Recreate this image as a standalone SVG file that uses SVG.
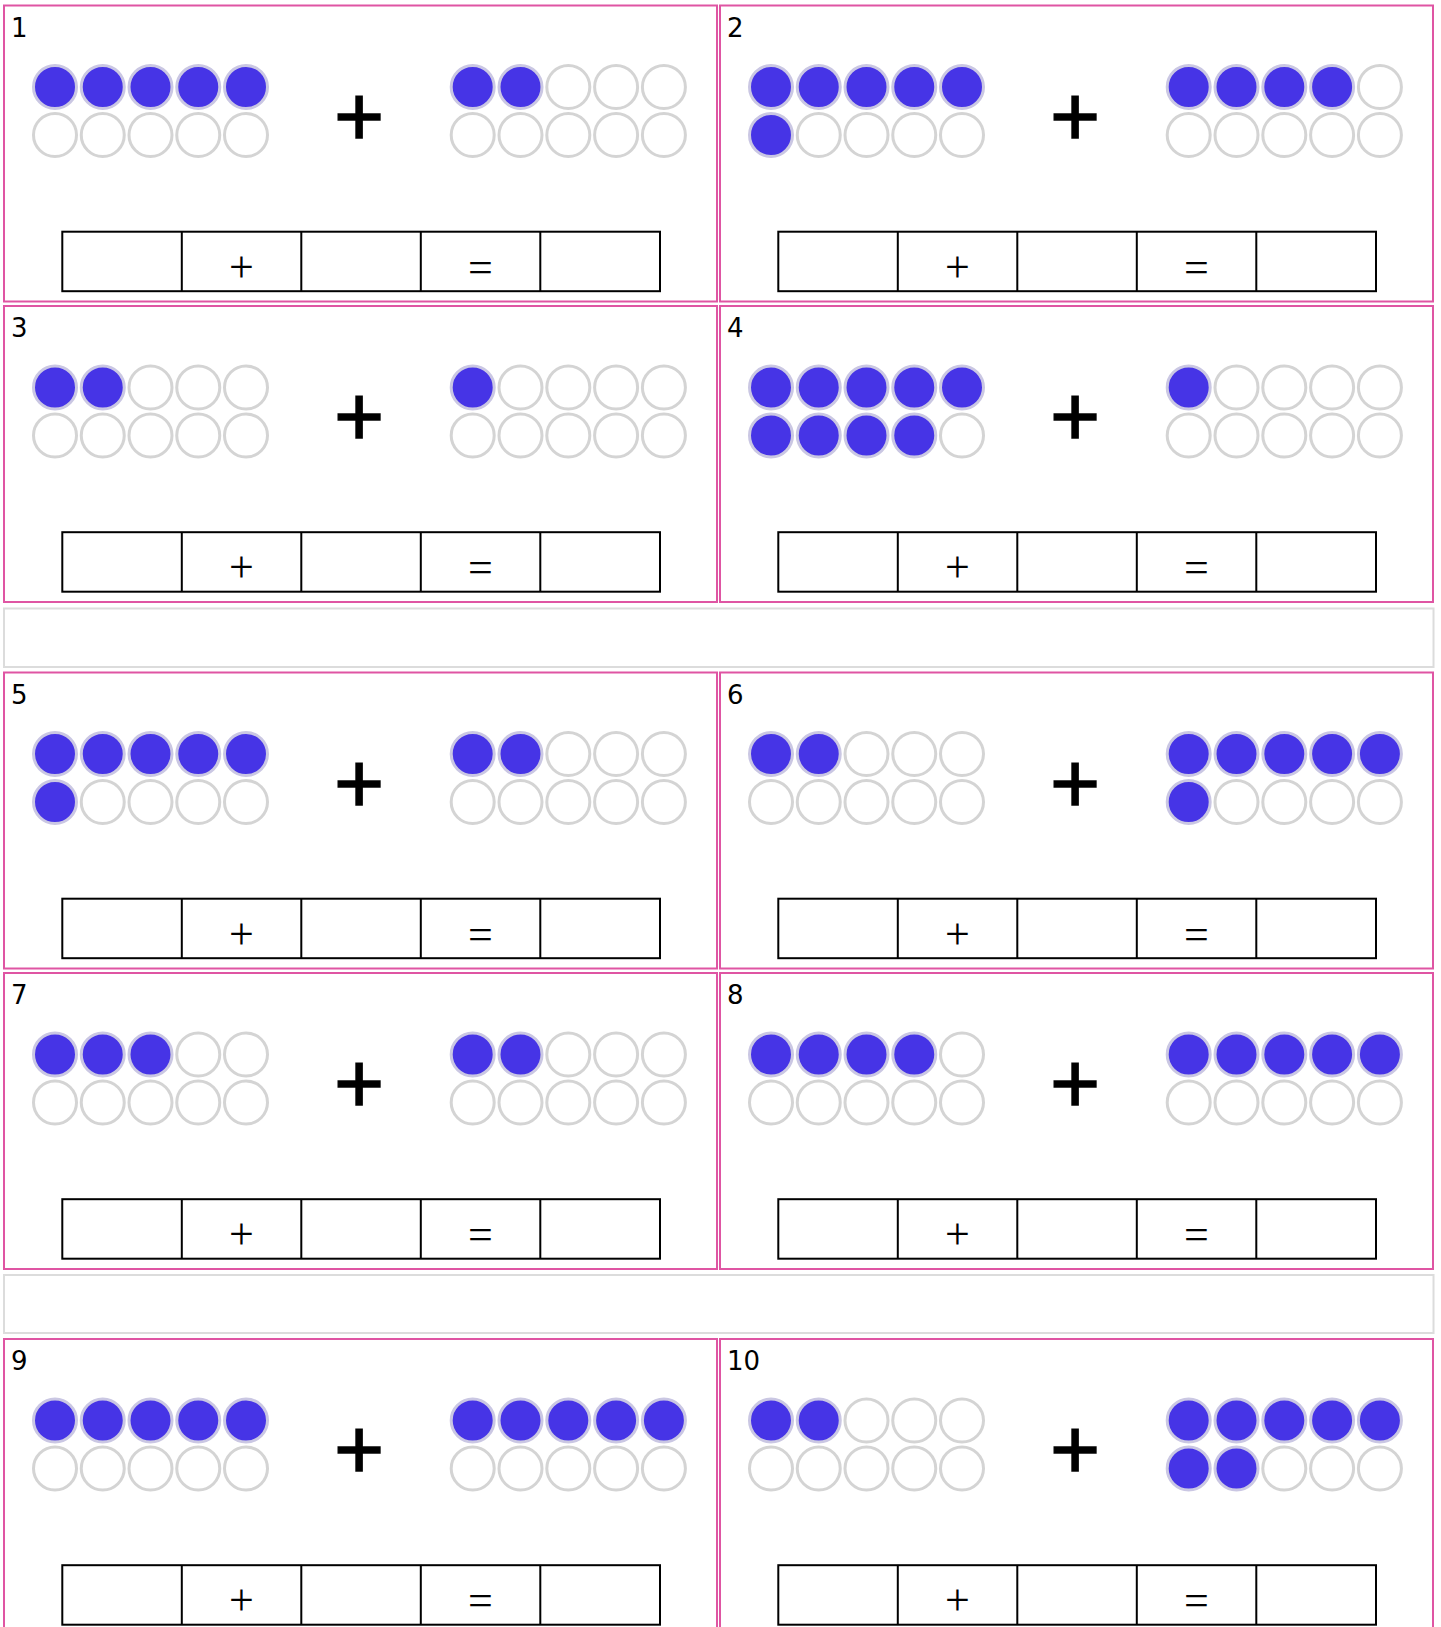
<svg xmlns="http://www.w3.org/2000/svg" xmlns:xlink="http://www.w3.org/1999/xlink" width="1441" height="1627" viewBox="0 0 1441 1627">
<style>
.frame{fill:#fff;stroke:#df55a3;stroke-width:2}
.gap{fill:#fff;stroke:#dcdcdc;stroke-width:2}
.num{font-family:"DejaVu Sans",sans-serif;font-size:26px;fill:#000}
.on{fill:#4634e6;stroke:#cac7e3;stroke-width:3}
.off{fill:#fff;stroke:#d4d4d4;stroke-width:3}
.bigplus{font-family:"Liberation Sans",Arial,sans-serif;font-size:86px;text-anchor:middle;fill:#000;stroke:#000;stroke-width:1.4}
.box{fill:none;stroke:#000;stroke-width:2}
.op{font-family:"Liberation Serif","Times New Roman",serif;font-size:44px;text-anchor:middle;fill:#000}
</style>
<defs>
<g id="answer">
<rect class="box" x="58.3" y="226.2" width="597.7" height="59.5"/>
<path class="box" d="M177.8 226.2V285.7M297.3 226.2V285.7M416.8 226.2V285.7M536.3 226.2V285.7"/>
<text class="op" x="237.3" y="276.2">+</text>
<text class="op" x="476.3" y="276.2">=</text>
</g>
</defs>
<rect width="1441" height="1627" fill="#fff"/>
<rect class="gap" x="4" y="608.5" width="1429.5" height="58.5"/>
<rect class="gap" x="4" y="1275" width="1429.5" height="58"/>

<g id="p1" transform="translate(4,5.5)">
<rect class="frame" width="713" height="296"/>
<text class="num" x="7" y="31">1</text>
<circle class="on" cx="51" cy="81.5" r="21.5"/><circle class="on" cx="98.75" cy="81.5" r="21.5"/><circle class="on" cx="146.5" cy="81.5" r="21.5"/><circle class="on" cx="194.25" cy="81.5" r="21.5"/><circle class="on" cx="242" cy="81.5" r="21.5"/>
<circle class="off" cx="51" cy="129.5" r="21.5"/><circle class="off" cx="98.75" cy="129.5" r="21.5"/><circle class="off" cx="146.5" cy="129.5" r="21.5"/><circle class="off" cx="194.25" cy="129.5" r="21.5"/><circle class="off" cx="242" cy="129.5" r="21.5"/>
<text class="bigplus" x="355" y="140">+</text>
<circle class="on" cx="468.7" cy="81.5" r="21.5"/><circle class="on" cx="516.5" cy="81.5" r="21.5"/><circle class="off" cx="564.3" cy="81.5" r="21.5"/><circle class="off" cx="612.1" cy="81.5" r="21.5"/><circle class="off" cx="659.9" cy="81.5" r="21.5"/>
<circle class="off" cx="468.7" cy="129.5" r="21.5"/><circle class="off" cx="516.5" cy="129.5" r="21.5"/><circle class="off" cx="564.3" cy="129.5" r="21.5"/><circle class="off" cx="612.1" cy="129.5" r="21.5"/><circle class="off" cx="659.9" cy="129.5" r="21.5"/>
<use xlink:href="#answer"/>
</g>

<g id="p2" transform="translate(720,5.5)">
<rect class="frame" width="713" height="296"/>
<text class="num" x="7" y="31">2</text>
<circle class="on" cx="51" cy="81.5" r="21.5"/><circle class="on" cx="98.75" cy="81.5" r="21.5"/><circle class="on" cx="146.5" cy="81.5" r="21.5"/><circle class="on" cx="194.25" cy="81.5" r="21.5"/><circle class="on" cx="242" cy="81.5" r="21.5"/>
<circle class="on" cx="51" cy="129.5" r="21.5"/><circle class="off" cx="98.75" cy="129.5" r="21.5"/><circle class="off" cx="146.5" cy="129.5" r="21.5"/><circle class="off" cx="194.25" cy="129.5" r="21.5"/><circle class="off" cx="242" cy="129.5" r="21.5"/>
<text class="bigplus" x="355" y="140">+</text>
<circle class="on" cx="468.7" cy="81.5" r="21.5"/><circle class="on" cx="516.5" cy="81.5" r="21.5"/><circle class="on" cx="564.3" cy="81.5" r="21.5"/><circle class="on" cx="612.1" cy="81.5" r="21.5"/><circle class="off" cx="659.9" cy="81.5" r="21.5"/>
<circle class="off" cx="468.7" cy="129.5" r="21.5"/><circle class="off" cx="516.5" cy="129.5" r="21.5"/><circle class="off" cx="564.3" cy="129.5" r="21.5"/><circle class="off" cx="612.1" cy="129.5" r="21.5"/><circle class="off" cx="659.9" cy="129.5" r="21.5"/>
<use xlink:href="#answer"/>
</g>

<g id="p3" transform="translate(4,306)">
<rect class="frame" width="713" height="296"/>
<text class="num" x="7" y="31">3</text>
<circle class="on" cx="51" cy="81.5" r="21.5"/><circle class="on" cx="98.75" cy="81.5" r="21.5"/><circle class="off" cx="146.5" cy="81.5" r="21.5"/><circle class="off" cx="194.25" cy="81.5" r="21.5"/><circle class="off" cx="242" cy="81.5" r="21.5"/>
<circle class="off" cx="51" cy="129.5" r="21.5"/><circle class="off" cx="98.75" cy="129.5" r="21.5"/><circle class="off" cx="146.5" cy="129.5" r="21.5"/><circle class="off" cx="194.25" cy="129.5" r="21.5"/><circle class="off" cx="242" cy="129.5" r="21.5"/>
<text class="bigplus" x="355" y="140">+</text>
<circle class="on" cx="468.7" cy="81.5" r="21.5"/><circle class="off" cx="516.5" cy="81.5" r="21.5"/><circle class="off" cx="564.3" cy="81.5" r="21.5"/><circle class="off" cx="612.1" cy="81.5" r="21.5"/><circle class="off" cx="659.9" cy="81.5" r="21.5"/>
<circle class="off" cx="468.7" cy="129.5" r="21.5"/><circle class="off" cx="516.5" cy="129.5" r="21.5"/><circle class="off" cx="564.3" cy="129.5" r="21.5"/><circle class="off" cx="612.1" cy="129.5" r="21.5"/><circle class="off" cx="659.9" cy="129.5" r="21.5"/>
<use xlink:href="#answer"/>
</g>

<g id="p4" transform="translate(720,306)">
<rect class="frame" width="713" height="296"/>
<text class="num" x="7" y="31">4</text>
<circle class="on" cx="51" cy="81.5" r="21.5"/><circle class="on" cx="98.75" cy="81.5" r="21.5"/><circle class="on" cx="146.5" cy="81.5" r="21.5"/><circle class="on" cx="194.25" cy="81.5" r="21.5"/><circle class="on" cx="242" cy="81.5" r="21.5"/>
<circle class="on" cx="51" cy="129.5" r="21.5"/><circle class="on" cx="98.75" cy="129.5" r="21.5"/><circle class="on" cx="146.5" cy="129.5" r="21.5"/><circle class="on" cx="194.25" cy="129.5" r="21.5"/><circle class="off" cx="242" cy="129.5" r="21.5"/>
<text class="bigplus" x="355" y="140">+</text>
<circle class="on" cx="468.7" cy="81.5" r="21.5"/><circle class="off" cx="516.5" cy="81.5" r="21.5"/><circle class="off" cx="564.3" cy="81.5" r="21.5"/><circle class="off" cx="612.1" cy="81.5" r="21.5"/><circle class="off" cx="659.9" cy="81.5" r="21.5"/>
<circle class="off" cx="468.7" cy="129.5" r="21.5"/><circle class="off" cx="516.5" cy="129.5" r="21.5"/><circle class="off" cx="564.3" cy="129.5" r="21.5"/><circle class="off" cx="612.1" cy="129.5" r="21.5"/><circle class="off" cx="659.9" cy="129.5" r="21.5"/>
<use xlink:href="#answer"/>
</g>

<g id="p5" transform="translate(4,672.5)">
<rect class="frame" width="713" height="296"/>
<text class="num" x="7" y="31">5</text>
<circle class="on" cx="51" cy="81.5" r="21.5"/><circle class="on" cx="98.75" cy="81.5" r="21.5"/><circle class="on" cx="146.5" cy="81.5" r="21.5"/><circle class="on" cx="194.25" cy="81.5" r="21.5"/><circle class="on" cx="242" cy="81.5" r="21.5"/>
<circle class="on" cx="51" cy="129.5" r="21.5"/><circle class="off" cx="98.75" cy="129.5" r="21.5"/><circle class="off" cx="146.5" cy="129.5" r="21.5"/><circle class="off" cx="194.25" cy="129.5" r="21.5"/><circle class="off" cx="242" cy="129.5" r="21.5"/>
<text class="bigplus" x="355" y="140">+</text>
<circle class="on" cx="468.7" cy="81.5" r="21.5"/><circle class="on" cx="516.5" cy="81.5" r="21.5"/><circle class="off" cx="564.3" cy="81.5" r="21.5"/><circle class="off" cx="612.1" cy="81.5" r="21.5"/><circle class="off" cx="659.9" cy="81.5" r="21.5"/>
<circle class="off" cx="468.7" cy="129.5" r="21.5"/><circle class="off" cx="516.5" cy="129.5" r="21.5"/><circle class="off" cx="564.3" cy="129.5" r="21.5"/><circle class="off" cx="612.1" cy="129.5" r="21.5"/><circle class="off" cx="659.9" cy="129.5" r="21.5"/>
<use xlink:href="#answer"/>
</g>

<g id="p6" transform="translate(720,672.5)">
<rect class="frame" width="713" height="296"/>
<text class="num" x="7" y="31">6</text>
<circle class="on" cx="51" cy="81.5" r="21.5"/><circle class="on" cx="98.75" cy="81.5" r="21.5"/><circle class="off" cx="146.5" cy="81.5" r="21.5"/><circle class="off" cx="194.25" cy="81.5" r="21.5"/><circle class="off" cx="242" cy="81.5" r="21.5"/>
<circle class="off" cx="51" cy="129.5" r="21.5"/><circle class="off" cx="98.75" cy="129.5" r="21.5"/><circle class="off" cx="146.5" cy="129.5" r="21.5"/><circle class="off" cx="194.25" cy="129.5" r="21.5"/><circle class="off" cx="242" cy="129.5" r="21.5"/>
<text class="bigplus" x="355" y="140">+</text>
<circle class="on" cx="468.7" cy="81.5" r="21.5"/><circle class="on" cx="516.5" cy="81.5" r="21.5"/><circle class="on" cx="564.3" cy="81.5" r="21.5"/><circle class="on" cx="612.1" cy="81.5" r="21.5"/><circle class="on" cx="659.9" cy="81.5" r="21.5"/>
<circle class="on" cx="468.7" cy="129.5" r="21.5"/><circle class="off" cx="516.5" cy="129.5" r="21.5"/><circle class="off" cx="564.3" cy="129.5" r="21.5"/><circle class="off" cx="612.1" cy="129.5" r="21.5"/><circle class="off" cx="659.9" cy="129.5" r="21.5"/>
<use xlink:href="#answer"/>
</g>

<g id="p7" transform="translate(4,973)">
<rect class="frame" width="713" height="296"/>
<text class="num" x="7" y="31">7</text>
<circle class="on" cx="51" cy="81.5" r="21.5"/><circle class="on" cx="98.75" cy="81.5" r="21.5"/><circle class="on" cx="146.5" cy="81.5" r="21.5"/><circle class="off" cx="194.25" cy="81.5" r="21.5"/><circle class="off" cx="242" cy="81.5" r="21.5"/>
<circle class="off" cx="51" cy="129.5" r="21.5"/><circle class="off" cx="98.75" cy="129.5" r="21.5"/><circle class="off" cx="146.5" cy="129.5" r="21.5"/><circle class="off" cx="194.25" cy="129.5" r="21.5"/><circle class="off" cx="242" cy="129.5" r="21.5"/>
<text class="bigplus" x="355" y="140">+</text>
<circle class="on" cx="468.7" cy="81.5" r="21.5"/><circle class="on" cx="516.5" cy="81.5" r="21.5"/><circle class="off" cx="564.3" cy="81.5" r="21.5"/><circle class="off" cx="612.1" cy="81.5" r="21.5"/><circle class="off" cx="659.9" cy="81.5" r="21.5"/>
<circle class="off" cx="468.7" cy="129.5" r="21.5"/><circle class="off" cx="516.5" cy="129.5" r="21.5"/><circle class="off" cx="564.3" cy="129.5" r="21.5"/><circle class="off" cx="612.1" cy="129.5" r="21.5"/><circle class="off" cx="659.9" cy="129.5" r="21.5"/>
<use xlink:href="#answer"/>
</g>

<g id="p8" transform="translate(720,973)">
<rect class="frame" width="713" height="296"/>
<text class="num" x="7" y="31">8</text>
<circle class="on" cx="51" cy="81.5" r="21.5"/><circle class="on" cx="98.75" cy="81.5" r="21.5"/><circle class="on" cx="146.5" cy="81.5" r="21.5"/><circle class="on" cx="194.25" cy="81.5" r="21.5"/><circle class="off" cx="242" cy="81.5" r="21.5"/>
<circle class="off" cx="51" cy="129.5" r="21.5"/><circle class="off" cx="98.75" cy="129.5" r="21.5"/><circle class="off" cx="146.5" cy="129.5" r="21.5"/><circle class="off" cx="194.25" cy="129.5" r="21.5"/><circle class="off" cx="242" cy="129.5" r="21.5"/>
<text class="bigplus" x="355" y="140">+</text>
<circle class="on" cx="468.7" cy="81.5" r="21.5"/><circle class="on" cx="516.5" cy="81.5" r="21.5"/><circle class="on" cx="564.3" cy="81.5" r="21.5"/><circle class="on" cx="612.1" cy="81.5" r="21.5"/><circle class="on" cx="659.9" cy="81.5" r="21.5"/>
<circle class="off" cx="468.7" cy="129.5" r="21.5"/><circle class="off" cx="516.5" cy="129.5" r="21.5"/><circle class="off" cx="564.3" cy="129.5" r="21.5"/><circle class="off" cx="612.1" cy="129.5" r="21.5"/><circle class="off" cx="659.9" cy="129.5" r="21.5"/>
<use xlink:href="#answer"/>
</g>

<g id="p9" transform="translate(4,1339)">
<rect class="frame" width="713" height="296"/>
<text class="num" x="7" y="31">9</text>
<circle class="on" cx="51" cy="81.5" r="21.5"/><circle class="on" cx="98.75" cy="81.5" r="21.5"/><circle class="on" cx="146.5" cy="81.5" r="21.5"/><circle class="on" cx="194.25" cy="81.5" r="21.5"/><circle class="on" cx="242" cy="81.5" r="21.5"/>
<circle class="off" cx="51" cy="129.5" r="21.5"/><circle class="off" cx="98.75" cy="129.5" r="21.5"/><circle class="off" cx="146.5" cy="129.5" r="21.5"/><circle class="off" cx="194.25" cy="129.5" r="21.5"/><circle class="off" cx="242" cy="129.5" r="21.5"/>
<text class="bigplus" x="355" y="140">+</text>
<circle class="on" cx="468.7" cy="81.5" r="21.5"/><circle class="on" cx="516.5" cy="81.5" r="21.5"/><circle class="on" cx="564.3" cy="81.5" r="21.5"/><circle class="on" cx="612.1" cy="81.5" r="21.5"/><circle class="on" cx="659.9" cy="81.5" r="21.5"/>
<circle class="off" cx="468.7" cy="129.5" r="21.5"/><circle class="off" cx="516.5" cy="129.5" r="21.5"/><circle class="off" cx="564.3" cy="129.5" r="21.5"/><circle class="off" cx="612.1" cy="129.5" r="21.5"/><circle class="off" cx="659.9" cy="129.5" r="21.5"/>
<use xlink:href="#answer"/>
</g>

<g id="p10" transform="translate(720,1339)">
<rect class="frame" width="713" height="296"/>
<text class="num" x="7" y="31">10</text>
<circle class="on" cx="51" cy="81.5" r="21.5"/><circle class="on" cx="98.75" cy="81.5" r="21.5"/><circle class="off" cx="146.5" cy="81.5" r="21.5"/><circle class="off" cx="194.25" cy="81.5" r="21.5"/><circle class="off" cx="242" cy="81.5" r="21.5"/>
<circle class="off" cx="51" cy="129.5" r="21.5"/><circle class="off" cx="98.75" cy="129.5" r="21.5"/><circle class="off" cx="146.5" cy="129.5" r="21.5"/><circle class="off" cx="194.25" cy="129.5" r="21.5"/><circle class="off" cx="242" cy="129.5" r="21.5"/>
<text class="bigplus" x="355" y="140">+</text>
<circle class="on" cx="468.7" cy="81.5" r="21.5"/><circle class="on" cx="516.5" cy="81.5" r="21.5"/><circle class="on" cx="564.3" cy="81.5" r="21.5"/><circle class="on" cx="612.1" cy="81.5" r="21.5"/><circle class="on" cx="659.9" cy="81.5" r="21.5"/>
<circle class="on" cx="468.7" cy="129.5" r="21.5"/><circle class="on" cx="516.5" cy="129.5" r="21.5"/><circle class="off" cx="564.3" cy="129.5" r="21.5"/><circle class="off" cx="612.1" cy="129.5" r="21.5"/><circle class="off" cx="659.9" cy="129.5" r="21.5"/>
<use xlink:href="#answer"/>
</g>
</svg>
